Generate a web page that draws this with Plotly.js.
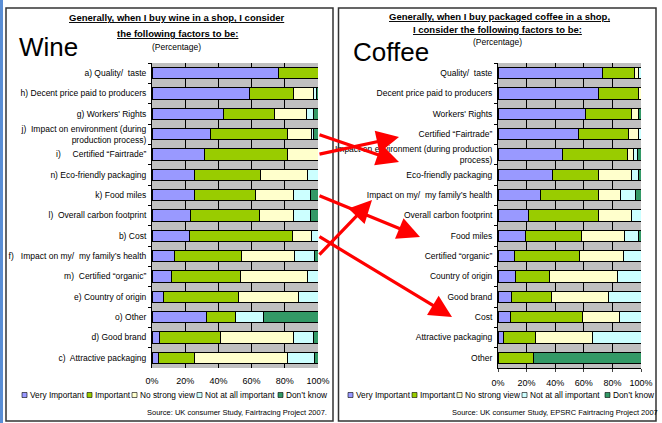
<!DOCTYPE html>
<html><head><meta charset="utf-8">
<script src="https://cdn.plot.ly/plotly-3.0.1.min.js"></script>
<style>html,body{margin:0;padding:0;background:#fff;}#chart{width:662px;height:423px;}</style>
</head><body><div id="chart"></div>
<script>
// ---------- DATA ----------
const statusNames = ['Very Important', 'Important', 'No strong view', 'Not at all important', "Don\u2019t know"];
const statusColors = ['#9999FF', '#99CC00', '#FFFFCC', '#CCFFFF', '#339966'];

const wineLabels = ['a) Quality/  taste', 'h) Decent price paid to producers', "g) Workers' Rights",
  'j)  Impact on environment (during<br>production process)', 'i)     Certified \u201cFairtrade\u201d',
  'n) Eco-friendly packaging', 'k) Food miles', 'l)  Overall carbon footprint', 'b) Cost',
  "f)   Impact on my/  my family\u2019s health", 'm)  Certified \u201corganic\u201d', 'e) Country of origin',
  'o) Other', 'd) Good brand', 'c)  Attractive packaging'];
const wineVeryImportant = [76, 59, 43, 35, 31.5, 25.5, 25.5, 23, 22.5, 13.7, 11.5, 7, 33, 4.6, 4];
const wineImportant     = [24, 26, 31, 46.5, 50, 40, 37, 42, 62, 40, 42, 45, 17, 36.6, 21.5];
const wineNoView        = [0, 12, 19, 14.5, 18.5, 28, 23, 20.5, 11.5, 32.3, 40, 36, 0, 44, 56];
const wineNotImportant  = [0, 2, 4.5, 1.5, 0, 6.5, 10, 10, 4, 12, 6.5, 12, 17, 12, 16.5];
const wineDontKnow      = [0, 1, 2.5, 2.5, 0, 0, 4.5, 4.5, 0, 2, 0, 0, 33, 2.8, 2];

const coffeeLabels = ['Quality/  taste', 'Decent price paid to producers', "Workers' Rights",
  'Certified \u201cFairtrade\u201d', 'Impact on environment (during production<br>process)',
  'Eco-friendly packaging', "Impact on my/  my family\u2019s health", 'Overall carbon footprint',
  'Food miles', 'Certified \u201corganic\u201d', 'Country of origin', 'Good brand', 'Cost',
  'Attractive packaging', 'Other'];
const coffeeVeryImportant = [73, 70.5, 61.5, 56, 45, 38, 30, 21, 19.5, 11.5, 12, 9.5, 8.7, 4, 0];
const coffeeImportant     = [22.5, 27.5, 32, 35, 45.5, 32.5, 40, 49, 39, 45.5, 24, 28, 50.5, 22, 25];
const coffeeNoView        = [2.5, 2, 4.5, 7.5, 4.5, 23, 16, 23.5, 30, 31, 47.5, 39.5, 25.5, 40, 0];
const coffeeNotImportant  = [2, 0, 0.5, 1.5, 2.5, 4.5, 10, 6.5, 9.5, 12, 16.5, 23, 15.3, 34, 0];
const coffeeDontKnow      = [0, 0, 1.5, 0, 2.5, 2, 4, 0, 2, 0, 0, 0, 0, 0, 75];

const xTicks = [0, 20, 40, 60, 80, 100];

// arrows: from wine factor to coffee factor
const arrowFrom = ['j)  Impact on environment (during<br>production process)', 'i)     Certified \u201cFairtrade\u201d',
  'k) Food miles', 'b) Cost', "f)   Impact on my/  my family\u2019s health"];
const arrowTo = ['Impact on environment (during production<br>process)', 'Certified \u201cFairtrade\u201d',
  'Food miles', 'Cost', "Impact on my/  my family\u2019s health"];

// ---------- BUILD ----------
const W = 662, H = 423;
const px = v => v / W, py = v => 1 - v / H;
const FONT = 'Liberation Sans, Arial, sans-serif';

const wineSeries = [wineVeryImportant, wineImportant, wineNoView, wineNotImportant, wineDontKnow];
const coffeeSeries = [coffeeVeryImportant, coffeeImportant, coffeeNoView, coffeeNotImportant, coffeeDontKnow];

const traces = [];
function addTraces(series, labels, xa, ya) {
  series.forEach((vals, i) => {
    traces.push({
      type: 'bar', orientation: 'h', x: vals, y: labels, xaxis: xa, yaxis: ya,
      name: statusNames[i], showlegend: false, hoverinfo: 'x+y+name',
      marker: {color: statusColors[i], line: {color: '#000', width: 1}}
    });
  });
}
addTraces(wineSeries, wineLabels, 'x', 'y');
addTraces(coffeeSeries, coffeeLabels, 'x2', 'y2');

const plotTop = 63, plotBot = 368;
function xAxis(l, r, anchor, line) {
  return {domain: [px(l), px(r)], range: [0, 100], tickvals: xTicks, ticktext: xTicks.map(v => v + '%'),
    showgrid: true, gridcolor: '#000', gridwidth: 1, zeroline: false, anchor: anchor,
    showline: line, linecolor: '#000', linewidth: 1, ticks: line ? 'outside' : '', ticklen: 3,
    ticklabelstandoff: line ? 3 : 6,
    tickfont: {size: 9, color: '#000', family: FONT}, fixedrange: true};
}
function yAxis(labels, anchor) {
  return {domain: [py(plotBot), py(plotTop)], type: 'category', categoryorder: 'array', categoryarray: labels,
    autorange: 'reversed', showgrid: false, showline: true, linecolor: '#000', linewidth: 1,
    ticks: 'outside', tickson: 'boundaries', ticklen: 3, tickcolor: '#000', anchor: anchor,
    ticklabelstandoff: 3,
    tickfont: {size: 8.5, color: '#000', family: FONT}, fixedrange: true};
}

const annotations = [];
const shapes = [];
function txt(x, y, text, size, opts) {
  annotations.push(Object.assign({xref: 'paper', yref: 'paper', x: px(x), y: py(y), text: text,
    showarrow: false, font: {size: size, color: '#000', family: FONT}, xanchor: 'center', yanchor: 'middle'}, opts || {}));
}
// Titles
const titleFont = s => ({size: s, color: '#000', family: FONT, weight: 'bold', lineposition: 'under'});
txt(177, 18, 'Generally, when I buy wine in a shop, I consider', 9.5, {font: titleFont(9.5)});
txt(177, 33, 'the following factors to be:', 9.5, {font: titleFont(9.5)});
txt(176, 47, '(Percentage)', 8.5);
txt(17, 47, 'Wine', 26, {xanchor: 'left'});
txt(499, 17, 'Generally, when I buy packaged coffee in a shop,', 9.5, {font: titleFont(9.5)});
txt(498, 30, 'I consider the following factors to be:', 9.5, {font: titleFont(9.5)});
txt(498, 42, '(Percentage)', 8.5);
txt(351, 52, 'Coffee', 26, {xanchor: 'left'});
// Sources
txt(329, 412, 'Source: UK consumer Study, Fairtracing Project 2007.', 7.5, {xanchor: 'right'});
txt(660, 412, 'Source: UK consumer Study, EPSRC Fairtracing Project 2007', 7.5, {xanchor: 'right'});

// Legends
function legend(squaresX) {
  squaresX.forEach((sx, i) => {
    shapes.push({type: 'rect', xref: 'paper', yref: 'paper', x0: px(sx), x1: px(sx + 5), y0: py(397.5), y1: py(392.5),
      fillcolor: statusColors[i], line: {color: '#000', width: 0.6}});
    txt(sx + 6, 395, statusNames[i], 8.3, {xanchor: 'left'});
  });
}
legend([22, 87, 132, 197, 278]);
legend([348, 412, 457, 522, 605]);

// Panel borders
shapes.push({type: 'line', xref: 'paper', yref: 'paper', x0: px(1.5), x1: px(1.5), y0: 0, y1: 1, line: {color: '#5B8FD6', width: 3}});
shapes.push({type: 'rect', xref: 'paper', yref: 'paper', x0: px(6), x1: px(333), y0: py(421), y1: py(8), line: {color: '#333', width: 1.5}});
shapes.push({type: 'rect', xref: 'paper', yref: 'paper', x0: px(338.5), x1: px(656), y0: py(421), y1: py(8), line: {color: '#333', width: 1.5}});

// Red arrows (start at wine bar end, tip near coffee label)
const wineBarEnd = 318;
const tips = [[399, 162], [399, 137], [420, 237], [452, 317], [372, 200]];
const slot = (plotBot - plotTop) / wineLabels.length;
arrowFrom.forEach((lab, i) => {
  const idx = wineLabels.indexOf(lab);
  const sy = plotTop + slot * (idx + 0.5);
  const [tx, ty] = tips[i];
  annotations.push({xref: 'paper', yref: 'paper', x: px(tx), y: py(ty), ax: wineBarEnd - tx, ay: sy - ty,
    axref: 'pixel', ayref: 'pixel', text: '', showarrow: true, arrowhead: 2, arrowsize: 1.4, arrowwidth: 3.2,
    arrowcolor: '#FF0000', standoff: 0, startstandoff: 0});
});

const layout = {
  width: W, height: H, margin: {l: 0, r: 0, t: 0, b: 0},
  paper_bgcolor: '#FFFFFF', plot_bgcolor: '#C0C0C0',
  barmode: 'stack', bargap: 0.45, showlegend: false,
  font: {family: FONT, color: '#000'},
  xaxis: xAxis(152, 318, 'y', false), yaxis: yAxis(wineLabels, 'x'),
  xaxis2: xAxis(498, 641, 'y2', true), yaxis2: yAxis(coffeeLabels, 'x2'),
  annotations: annotations, shapes: shapes
};
Plotly.newPlot('chart', traces, layout, {displayModeBar: false, staticPlot: true});
</script></body></html>
